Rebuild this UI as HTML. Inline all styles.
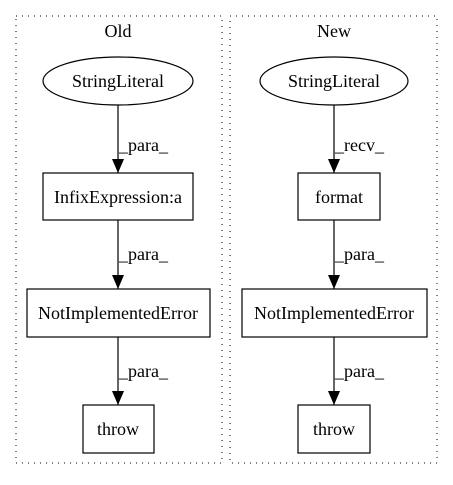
<!DOCTYPE html>
<html><head><meta charset="utf-8"><style>html,body{margin:0;padding:0;background:#fff}</style></head>
<body>
<svg width="453" height="480" viewBox="0 0 453 480" xmlns="http://www.w3.org/2000/svg" font-family="Liberation Serif, serif" font-size="18">
<defs><marker id="a" markerWidth="14" markerHeight="12" refX="14" refY="6" orient="auto" markerUnits="userSpaceOnUse"><path d="M0,0 L14,6 L0,12 z" fill="#000"/></marker></defs>
<rect x="16" y="16" width="206" height="447" fill="none" stroke="#000" stroke-dasharray="1,5"/>
<rect x="230" y="16" width="207" height="447" fill="none" stroke="#000" stroke-dasharray="1,5"/>
<text x="118" y="37" text-anchor="middle">Old</text>
<text x="334" y="37" text-anchor="middle">New</text>
<g fill="none" stroke="#000" stroke-width="1.2">
<ellipse cx="118" cy="81" rx="75" ry="24"/>
<rect x="43" y="173" width="150" height="47"/>
<rect x="27" y="289" width="183" height="48"/>
<rect x="83" y="405" width="71" height="48"/>
<ellipse cx="334" cy="81" rx="74" ry="24"/>
<rect x="298" y="173" width="82" height="47"/>
<rect x="242" y="289" width="185" height="48"/>
<rect x="298" y="405" width="72" height="48"/>
<line x1="118" y1="105" x2="118" y2="173" marker-end="url(#a)"/>
<line x1="118" y1="220" x2="118" y2="289" marker-end="url(#a)"/>
<line x1="118" y1="337" x2="118" y2="405" marker-end="url(#a)"/>
<line x1="334" y1="105" x2="334" y2="173" marker-end="url(#a)"/>
<line x1="334" y1="220" x2="334" y2="289" marker-end="url(#a)"/>
<line x1="334" y1="337" x2="334" y2="405" marker-end="url(#a)"/>
</g>
<g text-anchor="middle">
<text x="118" y="87">StringLiteral</text>
<text x="118" y="203">InfixExpression:a</text>
<text x="118" y="319">NotImplementedError</text>
<text x="118" y="435">throw</text>
<text x="334" y="87">StringLiteral</text>
<text x="339" y="203">format</text>
<text x="334" y="319">NotImplementedError</text>
<text x="334" y="435">throw</text>
</g>
<text x="119" y="151">_para_</text>
<text x="119" y="260">_para_</text>
<text x="119" y="377">_para_</text>
<text x="335" y="151">_recv_</text>
<text x="335" y="260">_para_</text>
<text x="335" y="377">_para_</text>
</svg>
</body></html>
